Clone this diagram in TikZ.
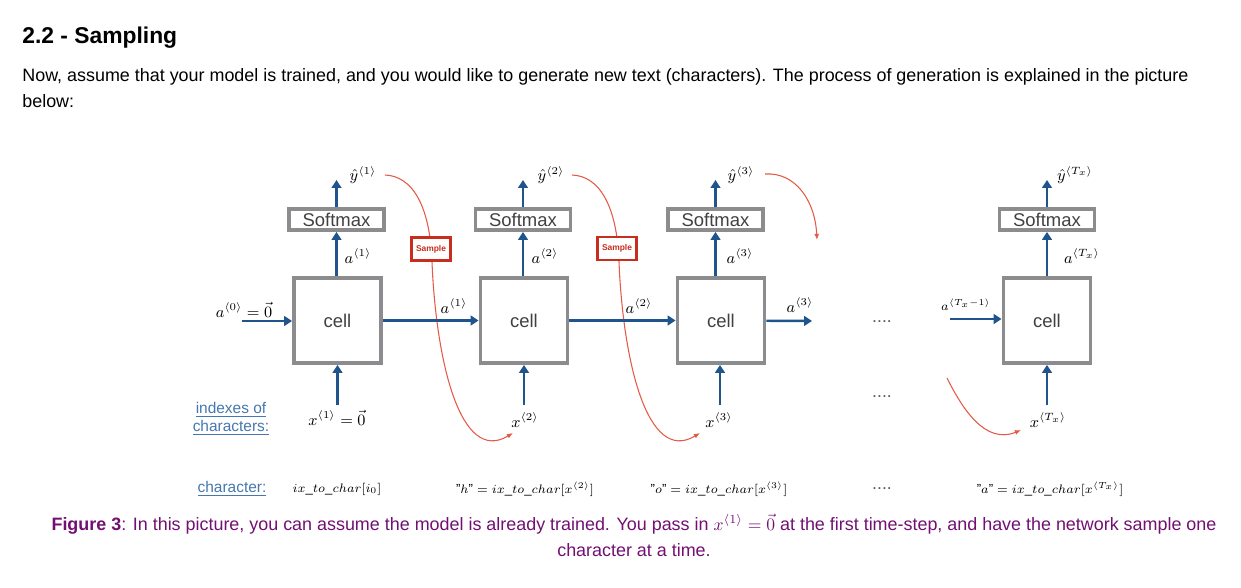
\documentclass[tikz,border=0pt]{standalone}
\usepackage{fontspec}
\setmainfont{Liberation Sans}
\usetikzlibrary{arrows.meta,positioning}

\definecolor{boxgray}{RGB}{140,140,142}
\definecolor{textgray}{RGB}{65,65,65}
\definecolor{arrowblue}{RGB}{31,84,140}
\definecolor{samplered}{RGB}{200,45,30}
\definecolor{curvered}{RGB}{228,90,70}
\definecolor{linkblue}{RGB}{70,120,175}
\definecolor{dotgray}{RGB}{90,90,90}
\definecolor{capurple}{RGB}{115,15,115}

\newcommand{\bodyfont}{\fontsize{10.2}{12}\selectfont}

\tikzset{
  cellbox/.style={draw=boxgray, line width=2.2pt, fill=white, minimum width=1.74cm,
    minimum height=1.70cm, inner sep=0pt, text=textgray, font=\fontsize{10.5}{12}\selectfont},
  softbox/.style={draw=boxgray, line width=2.2pt, fill=white, minimum width=1.90cm,
    minimum height=0.42cm, inner sep=0pt, text=textgray, font=\fontsize{10.5}{12}\selectfont},
  samplebox/.style={draw=samplered, line width=1.6pt, fill=white, minimum width=0.78cm,
    minimum height=0.46cm, inner sep=0pt, text=samplered, font=\fontsize{4.8}{5}\selectfont\bfseries},
  flow/.style={draw=arrowblue, line width=1.4pt, -{Triangle[length=4.5pt,width=5.5pt]}},
  feed/.style={draw=curvered, line width=0.6pt, -{Latex[length=3.5pt,width=2.8pt]}},
  lbl/.style={inner sep=0pt, font=\fontsize{9}{10}\selectfont},
  charlbl/.style={inner sep=0pt, font=\fontsize{7.5}{9}\selectfont},
  linklbl/.style={inner sep=0pt, text=linkblue, align=center, font=\fontsize{8.8}{10}\selectfont},
  dots/.style={inner sep=0pt, text=dotgray, font=\fontsize{10}{10}\selectfont},
  plain/.style={anchor=base west, inner sep=0pt, font=\bodyfont}
}

\begin{document}
\begin{tikzpicture}[x=0.02cm, y=-0.02cm]
    % Page frame (pixel units, y down)
    \fill[white] (0,0) rectangle (1241,588);
    \useasboundingbox (0,0) rectangle (1241,588);

    % Heading and intro text
    \node[anchor=base west, inner sep=0pt, font=\fontsize{13}{15}\selectfont\bfseries] (title) at (22,44) {2.2 - Sampling};
    \node[plain] (intro1) at (22,82) {Now, assume that your model is trained, and you would like to generate new text (characters). The process of generation is explained in the picture};
    \node[plain] (intro2) at (22,108) {below:};

    % Red sampling curves, drawn first so the Sample boxes sit on top
    \coordinate (s1) at (385,175);
    \coordinate (m1) at (432,262);
    \coordinate (e1) at (513,433);
    \draw[feed] (s1) .. controls (412,176) and (430,205) .. (m1) .. controls (436,360) and (460,465) .. (e1);

    \coordinate (s2) at (572,175);
    \coordinate (m2) at (619,262);
    \coordinate (e2) at (700,433);
    \draw[feed] (s2) .. controls (599,176) and (617,205) .. (m2) .. controls (623,360) and (647,465) .. (e2);

    \coordinate (s3) at (765,174);
    \coordinate (e3) at (817,240);
    \draw[feed] (s3) .. controls (795,172) and (815,200) .. (e3);

    \coordinate (s4) at (947,378);
    \coordinate (e4) at (1021,430);
    \draw[feed] (s4) .. controls (962,408) and (985,445) .. (e4);

    % Softmax boxes
    \node[softbox] (soft1) at (336.5,219.5) {Softmax};
    \node[softbox] (soft2) at (523,219.5) {Softmax};
    \node[softbox] (soft3) at (715.5,219.5) {Softmax};
    \node[softbox] (soft4) at (1047,219.5) {Softmax};

    % RNN cells
    \node[cellbox] (cell1) at (337.5,320.5) {cell};
    \node[cellbox] (cell2) at (524,320.5) {cell};
    \node[cellbox] (cell3) at (721,320.5) {cell};
    \node[cellbox] (cell4) at (1047,320.5) {cell};

    % Sample boxes
    \node[samplebox] (samp1) at (431,249) {Sample};
    \node[samplebox] (samp2) at (617,248.5) {Sample};

    % Hidden state arrows
    \coordinate (a0) at (242,321);
    \coordinate (aout) at (812,321);
    \coordinate (ain) at (950,319);
    \draw[flow] (a0) -- (a0 -| cell1.west);
    \draw[flow] (cell1) -- (cell2);
    \draw[flow] (cell2) -- (cell3);
    \draw[flow] (cell3) -- (aout);
    \draw[flow] (ain) -- (ain -| cell4.west);

    % Cell -> Softmax
    \draw[flow] (cell1.north -| soft1.south) -- (soft1.south);
    \draw[flow] (cell2.north -| soft2.south) -- (soft2.south);
    \draw[flow] (cell3.north -| soft3.south) -- (soft3.south);
    \draw[flow] (cell4.north -| soft4.south) -- (soft4.south);

    % Softmax -> y hat
    \coordinate (top1) at (336.5,180);
    \coordinate (top2) at (523,180);
    \coordinate (top3) at (715.5,180);
    \coordinate (top4) at (1047,180);
    \draw[flow] (soft1) -- (top1);
    \draw[flow] (soft2) -- (top2);
    \draw[flow] (soft3) -- (top3);
    \draw[flow] (soft4) -- (top4);

    % Inputs x -> cell
    \coordinate (in1) at (337.5,405);
    \coordinate (in2) at (524,405);
    \coordinate (in3) at (720,405);
    \coordinate (in4) at (1047,405);
    \draw[flow] (in1) -- (in1 |- cell1.south);
    \draw[flow] (in2) -- (in2 |- cell2.south);
    \draw[flow] (in3) -- (in3 |- cell3.south);
    \draw[flow] (in4) -- (in4 |- cell4.south);

    % y hat labels
    \node[lbl] (yh1) at (363,175) {$\hat{y}^{\langle 1\rangle}$};
    \node[lbl] (yh2) at (551,175) {$\hat{y}^{\langle 2\rangle}$};
    \node[lbl] (yh3) at (741,175) {$\hat{y}^{\langle 3\rangle}$};
    \node[lbl] (yh4) at (1075,175) {$\hat{y}^{\langle T_x\rangle}$};

    % activation labels
    \node[lbl] (au1) at (358,256) {$a^{\langle 1\rangle}$};
    \node[lbl] (au2) at (545,256) {$a^{\langle 2\rangle}$};
    \node[lbl] (au3) at (740,256) {$a^{\langle 3\rangle}$};
    \node[lbl] (au4) at (1082,256) {$a^{\langle T_x\rangle}$};
    \node[lbl] (ah0) at (244,310) {$a^{\langle 0\rangle}=\vec{0}$};
    \node[lbl] (ah1) at (454,306) {$a^{\langle 1\rangle}$};
    \node[lbl] (ah2) at (639,306) {$a^{\langle 2\rangle}$};
    \node[lbl] (ah3) at (800,305) {$a^{\langle 3\rangle}$};
    \node[lbl, font=\fontsize{7.5}{9}\selectfont] (ahT) at (966,305) {$a^{\langle T_x-1\rangle}$};

    % input labels
    \node[lbl] (x1) at (337,418) {$x^{\langle 1\rangle}=\vec{0}$};
    \node[lbl] (x2) at (525,420) {$x^{\langle 2\rangle}$};
    \node[lbl] (x3) at (719,420) {$x^{\langle 3\rangle}$};
    \node[lbl] (x4) at (1048,420) {$x^{\langle T_x\rangle}$};

    % dots for skipped steps
    \node[dots] (dmid) at (882,322) {....};
    \node[dots] (dx) at (882,397) {....};
    \node[dots] (dch) at (882,489) {....};

    % row titles
    \node[linklbl] (rowidx) at (231,419) {\underline{indexes of}\\\underline{characters:}};
    \node[linklbl] (rowch) at (232,489) {\underline{character:}};

    % characters
    \node[charlbl] (ch1) at (337,489) {$ix\_to\_char[i_0]$};
    \node[charlbl] (ch2) at (525,489) {$\mbox{"}h\mbox{"}=ix\_to\_char[x^{\langle 2\rangle}]$};
    \node[charlbl] (ch3) at (719,489) {$\mbox{"}o\mbox{"}=ix\_to\_char[x^{\langle 3\rangle}]$};
    \node[charlbl] (ch4) at (1050,489) {$\mbox{"}a\mbox{"}=ix\_to\_char[x^{\langle T_x\rangle}]$};

    % Caption
    \node[anchor=base, inner sep=0pt, text=capurple, font=\bodyfont] (cap1) at (634,530) {\textbf{Figure 3}: In this picture, you can assume the model is already trained. You pass in $x^{\langle 1\rangle}=\vec{0}$ at the first time-step, and have the network sample one};
    \node[anchor=base, inner sep=0pt, text=capurple, font=\bodyfont] (cap2) at (634,556) {character at a time.};
\end{tikzpicture}
\end{document}
